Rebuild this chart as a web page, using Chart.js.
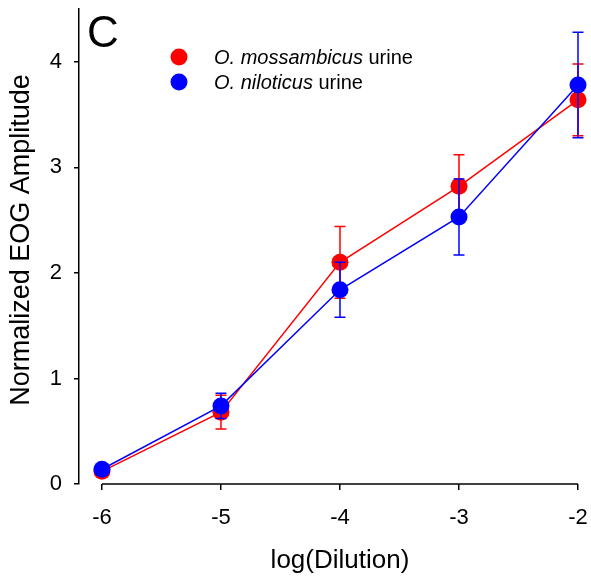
<!DOCTYPE html>
<html>
<head>
<meta charset="utf-8">
<script src="https://cdn.jsdelivr.net/npm/chart.js@4/dist/chart.umd.min.js"></script>
<style>
  html, body { margin: 0; padding: 0; background: #fff; }
  #wrap { width: 591px; height: 587px; }
</style>
</head>
<body>
<div id="wrap"><canvas id="myChart" width="591" height="587"></canvas></div>
<script>
// data
var dilution = [-6, -5, -4, -3, -2];
var mossMean = [0.12, 0.68, 2.10, 2.82, 3.64];
var mossErr  = [0.03, 0.16, 0.34, 0.30, 0.34];
var niloMean = [0.14, 0.74, 1.84, 2.53, 3.78];
var niloErr  = [0.03, 0.12, 0.26, 0.36, 0.50];
var xTicks = [-6, -5, -4, -3, -2];
var yTicks = [0, 1, 2, 3, 4];
var seriesNames = ['O. mossambicus', 'O. niloticus'];
var xTitle = 'log(Dilution)';
var yTitle = 'Normalized EOG Amplitude';

var FONT = "'Liberation Sans', Arial, sans-serif";

function points(xs, ys) {
    return xs.map(function(x, i) { return { x: x, y: ys[i] }; });
}

// error bars, drawn just before each dataset so dots of later series sit on top
var errorBars = {
    id: 'errorBars',
    beforeDatasetDraw: function(chart, args) {
        var ds = chart.data.datasets[args.index];
        var xs = chart.scales.x, ys = chart.scales.y;
        var ctx = chart.ctx;
        ctx.save();
        ctx.strokeStyle = ds.borderColor;
        ctx.lineWidth = 1.5;
        ds.data.forEach(function(p, i) {
            var e = ds.errors[i];
            var px = xs.getPixelForValue(p.x);
            var top = ys.getPixelForValue(p.y + e);
            var bot = ys.getPixelForValue(p.y - e);
            ctx.beginPath();
            ctx.moveTo(px, top); ctx.lineTo(px, bot);
            ctx.moveTo(px - 5.5, top); ctx.lineTo(px + 5.5, top);
            ctx.moveTo(px - 5.5, bot); ctx.lineTo(px + 5.5, bot);
            ctx.stroke();
        });
        ctx.restore();
    }
};

// x axis line only spans -6..-2, axis titles, panel letter and legend
var extras = {
    id: 'extras',
    afterDraw: function(chart) {
        var ctx = chart.ctx;
        var xs = chart.scales.x, ys = chart.scales.y;
        var xL = xs.getPixelForValue(xTicks[0]);
        var xR = xs.getPixelForValue(xTicks[xTicks.length - 1]);
        ctx.save();
        ctx.strokeStyle = '#000';
        ctx.lineWidth = 1.5;
        var y0 = ys.getPixelForValue(0);
        ctx.beginPath();
        ctx.moveTo(xL, y0);
        ctx.lineTo(xR, y0);
        ctx.stroke();

        ctx.fillStyle = '#000';
        ctx.textAlign = 'center';
        ctx.textBaseline = 'middle';
        ctx.font = '26px ' + FONT;
        ctx.fillText(xTitle, (xL + xR) / 2, 561);
        ctx.save();
        ctx.translate(22, 240);
        ctx.rotate(-Math.PI / 2);
        ctx.font = '27px ' + FONT;
        ctx.fillText(yTitle, 0, 0);
        ctx.restore();

        ctx.textAlign = 'left';
        ctx.textBaseline = 'alphabetic';
        ctx.font = '44px ' + FONT;
        ctx.fillText('C', 87, 47);

        var cols = ['#ff0000', '#0000ff'];
        seriesNames.forEach(function(name, i) {
            var cy = 57 + i * 25;
            ctx.fillStyle = cols[i];
            ctx.beginPath();
            ctx.arc(179, cy, 8.5, 0, Math.PI * 2);
            ctx.fill();
            ctx.fillStyle = '#000';
            ctx.font = 'italic 20px ' + FONT;
            ctx.fillText(name, 214, cy + 7);
            var w = ctx.measureText(name).width;
            ctx.font = '20px ' + FONT;
            ctx.fillText(' urine', 214 + w, cy + 7);
        });
        ctx.restore();
    }
};

var ctx = document.getElementById('myChart').getContext('2d');
var myChart = new Chart(ctx, {
    type: 'line',
    data: {
        datasets: [{
            label: seriesNames[0] + ' urine',
            data: points(dilution, mossMean),
            errors: mossErr,
            borderColor: '#ff0000',
            backgroundColor: '#ff0000',
            borderWidth: 1.5,
            pointRadius: 8.5,
            pointBorderWidth: 0,
            tension: 0,
            order: 2
        }, {
            label: seriesNames[1] + ' urine',
            data: points(dilution, niloMean),
            errors: niloErr,
            borderColor: '#0000ff',
            backgroundColor: '#0000ff',
            borderWidth: 1.5,
            pointRadius: 8.5,
            pointBorderWidth: 0,
            tension: 0,
            order: 1
        }]
    },
    options: {
        responsive: false,
        animation: false,
        clip: false,
        layout: { padding: { top: 9, right: 13, left: 0, bottom: 0 } },
        plugins: { legend: { display: false }, tooltip: { enabled: false } },
        scales: {
            x: {
                type: 'linear',
                min: -6.193,
                max: -2,
                afterBuildTicks: function(s) { s.ticks = xTicks.map(function(v) { return { value: v }; }); },
                afterFit: function(s) { s.height = 103; s.paddingLeft = 0; s.paddingRight = 0; },
                grid: { drawOnChartArea: false, tickLength: 6, color: '#000', lineWidth: 1.5 },
                border: { display: false },
                ticks: { color: '#000', padding: 15, maxRotation: 0, font: { family: FONT, size: 22 } },
                title: { display: false }
            },
            y: {
                min: 0,
                max: 4.5,
                afterBuildTicks: function(s) { s.ticks = yTicks.map(function(v) { return { value: v }; }); },
                afterFit: function(s) { s.width = 79; s.paddingTop = 0; s.paddingBottom = 0; },
                grid: { drawOnChartArea: false, tickLength: 5, color: '#000', lineWidth: 1.5 },
                border: { display: true, color: '#000', width: 1.5 },
                ticks: { color: '#000', padding: 12, font: { family: FONT, size: 22 } },
                title: { display: false }
            }
        }
    },
    plugins: [errorBars, extras]
});
</script>
</body>
</html>
